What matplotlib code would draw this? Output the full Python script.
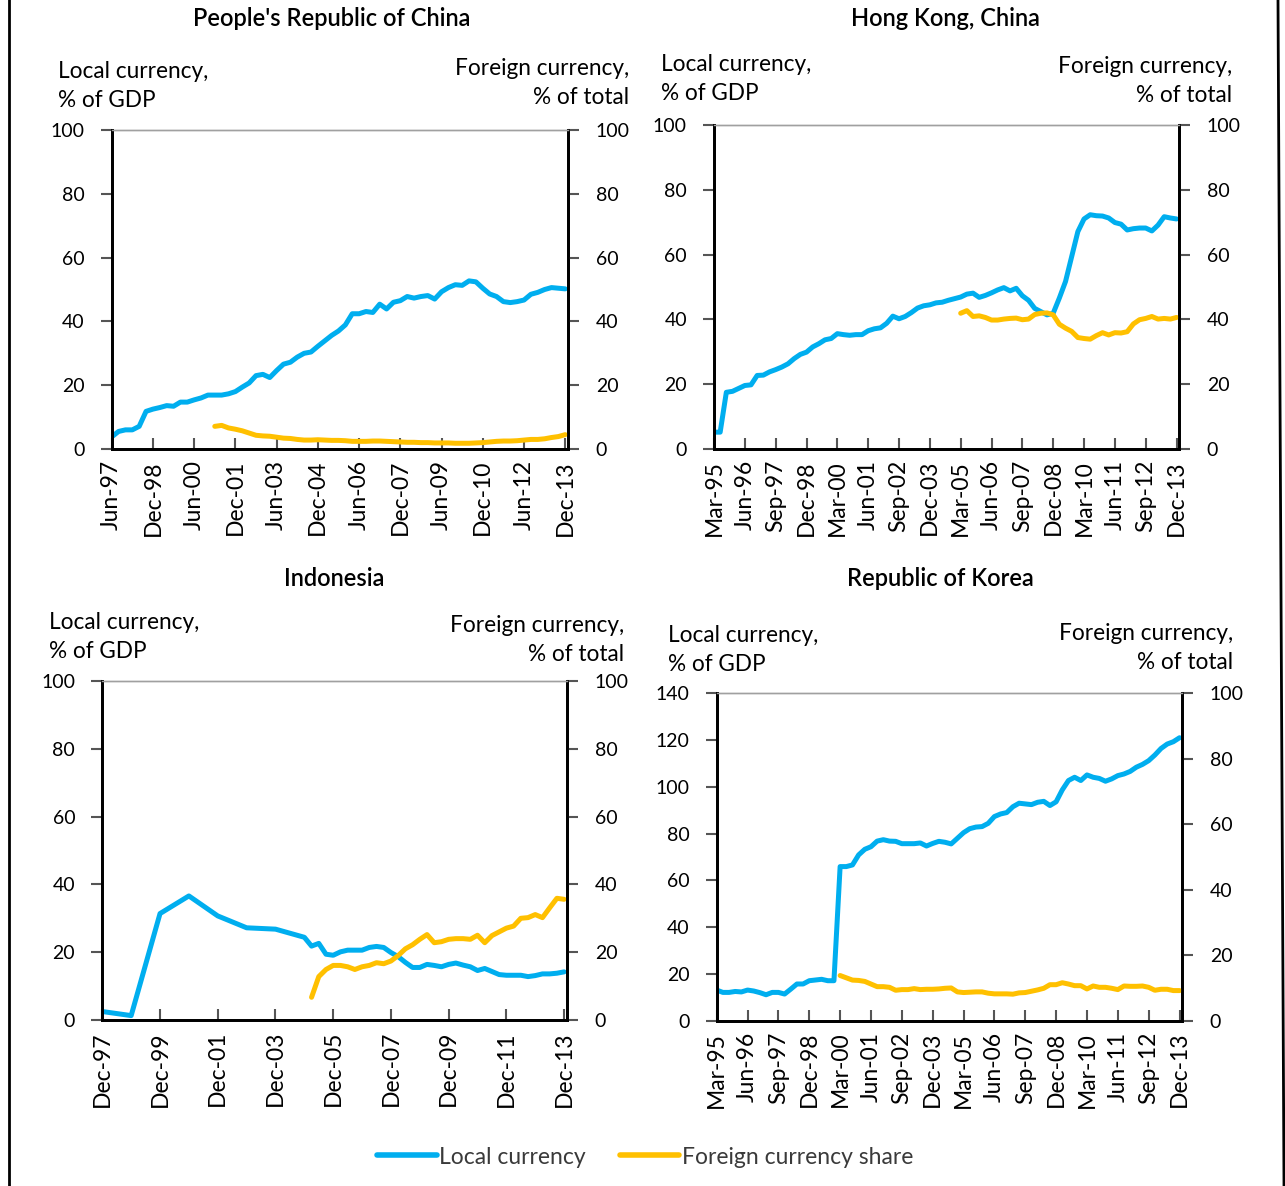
import numpy as np
import matplotlib
matplotlib.use("Agg")
import matplotlib.pyplot as plt
from matplotlib.lines import Line2D

plt.rcParams['font.family'] = ['Lato', 'DejaVu Sans']

BLUE = '#00AEEF'
YELLOW = '#FFC000'

# ---------------- data ----------------
# China: quarterly Jun-97 .. Dec-13
china_ticks = ['Jun-97', 'Dec-98', 'Jun-00', 'Dec-01', 'Jun-03', 'Dec-04', 'Jun-06',
               'Dec-07', 'Jun-09', 'Dec-10', 'Jun-12', 'Dec-13']
china_local = [3.8, 5.5, 6, 6, 7.1, 11.8, 12.5, 13, 13.6, 13.4, 14.7, 14.7, 15.4, 16, 16.9,
               16.9, 16.9, 17.3, 18, 19.4, 20.7, 23, 23.4, 22.4, 24.6, 26.6, 27.2, 28.8, 30,
               30.4, 32.2, 33.9, 35.6, 37, 38.9, 42.4, 42.4, 43.1, 42.8, 45.4, 43.9, 46, 46.5,
               47.8, 47.3, 47.8, 48.1, 47, 49.3, 50.6, 51.5, 51.3, 52.7, 52.4, 50.4, 48.6,
               47.8, 46.2, 45.9, 46.2, 46.7, 48.5, 49.1, 50, 50.6, 50.4, 50.2]
china_foreign = [None] * 15 + [7.1, 7.4, 6.6, 6.2, 5.7, 5, 4.3, 4.1, 4, 3.7, 3.4, 3.3, 3, 2.8,
                               2.8, 2.9, 2.8, 2.7, 2.7, 2.6, 2.4, 2.4, 2.4, 2.5, 2.5, 2.4, 2.3,
                               2.2, 2.1, 2.1, 2.0, 2.0, 1.9, 1.9, 1.9, 1.8, 1.8, 1.8, 1.9, 2.0,
                               2.2, 2.4, 2.5, 2.5, 2.6, 2.8, 3.0, 3.0, 3.2, 3.6, 3.9, 4.5]

# Hong Kong, China: quarterly Mar-95 .. Dec-13
hk_ticks = ['Mar-95', 'Jun-96', 'Sep-97', 'Dec-98', 'Mar-00', 'Jun-01', 'Sep-02', 'Dec-03',
            'Mar-05', 'Jun-06', 'Sep-07', 'Dec-08', 'Mar-10', 'Jun-11', 'Sep-12', 'Dec-13']
hk_local = [5.2, 5.2, 17.5, 17.8, 18.7, 19.6, 19.8, 22.7, 22.8, 23.8, 24.5, 25.3, 26.3, 27.9,
            29.2, 29.9, 31.5, 32.5, 33.7, 34.1, 35.6, 35.3, 35.1, 35.3, 35.3, 36.5, 37.1, 37.4,
            38.8, 41, 40.2, 40.9, 42.1, 43.5, 44.2, 44.5, 45.1, 45.3, 45.9, 46.4, 46.9, 47.8,
            48.1, 46.8, 47.4, 48.2, 49.1, 49.8, 48.8, 49.6, 47.3, 45.9, 43.4, 42.4, 41.4, 41.9,
            46.6, 51.7, 59.4, 67.1, 71, 72.3, 72, 71.9, 71.3, 69.9, 69.4, 67.6, 68, 68.2, 68.2,
            67.3, 69.1, 71.7, 71.3, 71]
hk_foreign = [None] * 40 + [41.9, 42.7, 40.9, 41.1, 40.6, 39.8, 39.8, 40.1, 40.3, 40.4, 39.9,
                            40.1, 41.5, 41.9, 42, 41.4, 38.5, 37.3, 36.3, 34.4, 34.1, 33.9, 35,
                            35.9, 35.2, 35.9, 35.8, 36.2, 38.6, 39.9, 40.3, 40.9, 40.1, 40.3,
                            40.1, 40.6]

# Indonesia: quarterly Dec-97 .. Dec-13 (annual observations before Dec-04)
indo_ticks = ['Dec-97', 'Dec-99', 'Dec-01', 'Dec-03', 'Dec-05', 'Dec-07', 'Dec-09',
              'Dec-11', 'Dec-13']
indo_local = [2.5, None, None, None, 1.3, None, None, None, 31.4, None, None, None, 36.6,
              None, None, None, 30.7, None, None, None, 27.2, None, None, None, 26.8, None,
              None, None, 24.4, 21.8, 22.6, 19.4, 19.1, 20.1, 20.6, 20.6, 20.6, 21.4, 21.7,
              21.4, 19.9, 18.7, 17, 15.5, 15.5, 16.4, 16.1, 15.7, 16.4, 16.8, 16.2, 15.7,
              14.6, 15.2, 14.3, 13.4, 13.2, 13.2, 13.2, 12.8, 13.1, 13.6, 13.6, 13.8, 14.2]
indo_foreign = [None] * 29 + [6.7, 12.8, 14.9, 16.1, 16.1, 15.7, 14.9, 15.7, 16.1, 16.9, 16.6,
                              17.4, 19, 21, 22.2, 23.8, 25.2, 22.8, 23.1, 23.8, 24, 24, 23.8,
                              25, 22.8, 24.9, 26, 27.1, 27.7, 30, 30.2, 31.1, 30.2, 33.1, 35.9,
                              35.6]

# Republic of Korea: quarterly Mar-95 .. Dec-13
kor_ticks = hk_ticks
kor_local = [13.1, 12.1, 12.1, 12.5, 12.3, 13.1, 12.7, 12, 11.1, 12.1, 12.1, 11.4, 13.5, 15.7,
             15.7, 17.1, 17.4, 17.7, 17.1, 17.1, 65.9, 65.9, 66.6, 70.9, 73.3, 74.4, 76.8,
             77.4, 76.8, 76.7, 75.7, 75.7, 75.7, 76, 74.7, 75.8, 76.7, 76.3, 75.6, 78, 80.4,
             82.1, 82.8, 83, 84.4, 87.3, 88.4, 89, 91.5, 93, 92.7, 92.4, 93.4, 93.8, 92, 93.6,
             98.7, 102.7, 104.1, 102.7, 105.1, 104.1, 103.6, 102.4, 103.4, 104.8, 105.5,
             106.6, 108.4, 109.6, 111.2, 113.6, 116.4, 118.3, 119.3, 121]
kor_foreign = [None] * 20 + [13.8, 13.1, 12.4, 12.3, 12, 11.2, 10.4, 10.4, 10.2, 9.3, 9.5, 9.5,
                             9.8, 9.5, 9.6, 9.6, 9.7, 9.9, 10, 8.8, 8.6, 8.7, 8.8, 8.8, 8.4,
                             8.2, 8.2, 8.2, 8.1, 8.5, 8.6, 9, 9.4, 9.9, 11, 11, 11.6, 11.2,
                             10.7, 10.7, 9.7, 10.6, 10.2, 10.2, 9.9, 9.5, 10.6, 10.5, 10.5,
                             10.6, 10.2, 9.3, 9.6, 9.6, 9.2, 9.2]

W, H = 1285, 1186
fig = plt.figure(figsize=(W / 100, H / 100), dpi=100)


def fx(px):
    return px / W


def fy(py):
    return 1 - py / H


def arr(v):
    return np.array([np.nan if x is None else x for x in v], dtype=float)


FS_Y = 14
FS_X = 16.5
FS_LAB = 16.3
FS_TITLE = 17


def panel(box, title, title_xy, local, foreign, ticks, step, lmax, lstep, rmax,
          left_lab, right_lab):
    l, t, r, b = box
    ax = fig.add_axes([fx(l), fy(b), fx(r - l), (b - t) / H])
    ax2 = ax.twinx()
    loc = arr(local)
    fo = arr(foreign)
    x = np.arange(len(loc))
    m = ~np.isnan(loc)
    ax.plot(x[m], loc[m], color=BLUE, lw=3.6, solid_capstyle='round', solid_joinstyle='round')
    m2 = ~np.isnan(fo)
    ax2.plot(x[m2], fo[m2], color=YELLOW, lw=3.6, solid_capstyle='round',
             solid_joinstyle='round')
    n = len(loc)
    ax.set_xlim(0, n - 1 + 0.4)
    ax.set_ylim(0, lmax)
    ax2.set_ylim(0, rmax)
    ax.set_yticks(np.arange(0, lmax + 1, lstep))
    ax2.set_yticks(np.arange(0, rmax + 1, 20))
    ax.set_xticks(np.arange(0, n, step))
    ax.set_xticklabels(ticks, rotation=90, fontsize=FS_X)
    for a in (ax, ax2):
        for s in ('left', 'right', 'bottom'):
            a.spines[s].set_color('black')
            a.spines[s].set_linewidth(2)
        a.spines['top'].set_color('#a0a0a0')
        a.spines['top'].set_linewidth(1)
    ax.tick_params(axis='y', direction='out', length=8, width=1.5, color='#555555',
                   pad=11.5, labelsize=FS_Y)
    ax2.tick_params(axis='y', direction='out', length=8, width=1.5, color='#555555',
                    pad=12, labelsize=FS_Y)
    ax.tick_params(axis='x', direction='in', length=8, width=1.5, color='#555555',
                   pad=8, labelsize=FS_X)
    fig.text(fx(title_xy[0]), fy(title_xy[1]), title, ha='center', va='center',
             fontsize=FS_TITLE, fontweight='semibold')
    fig.text(fx(left_lab[0]), fy(left_lab[1]), 'Local currency,\n% of GDP', ha='left',
             va='center', fontsize=FS_LAB, linespacing=1.5)
    fig.text(fx(right_lab[0]), fy(right_lab[1]), 'Foreign currency,\n% of total',
             ha='right', va='center', fontsize=FS_LAB, multialignment='right',
             linespacing=1.5)
    return ax


panel((111.7, 130, 568, 449), "People's Republic of China", (332, 18), china_local,
      china_foreign, china_ticks, 6, 100, 20, 100, (58, 86), (629, 83))
panel((714, 125, 1179, 449), "Hong Kong, China", (945, 18), hk_local, hk_foreign,
      hk_ticks, 5, 100, 20, 100, (661, 79), (1232, 81))
panel((102.3, 681, 567, 1020), "Indonesia", (334, 578), indo_local, indo_foreign,
      indo_ticks, 8, 100, 20, 100, (49, 637), (624, 640))
panel((716.7, 693.3, 1182, 1020.7), "Republic of Korea", (940, 578), kor_local,
      kor_foreign, kor_ticks, 5, 140, 20, 100, (668, 650), (1233, 648))

# legend
handles = [Line2D([], [], color=BLUE, lw=4, solid_capstyle='round'),
           Line2D([], [], color=YELLOW, lw=4, solid_capstyle='round')]
leg = fig.legend(handles, ['Local currency', 'Foreign currency share'], loc='center',
                 bbox_to_anchor=(fx(645), fy(1157)), ncol=2, frameon=False, fontsize=16.5,
                 handlelength=2.6, handletextpad=0.1, columnspacing=1.5)
for t in leg.get_texts():
    t.set_color('#3a3a3a')

# border lines
fig.add_artist(Line2D([fx(9), fx(9)], [0, 1], color='black', lw=2, transform=fig.transFigure))
fig.add_artist(Line2D([fx(1278), fx(1284)], [1, 0], color='black', lw=2,
                      transform=fig.transFigure))

fig.savefig('out.png', dpi=100)
